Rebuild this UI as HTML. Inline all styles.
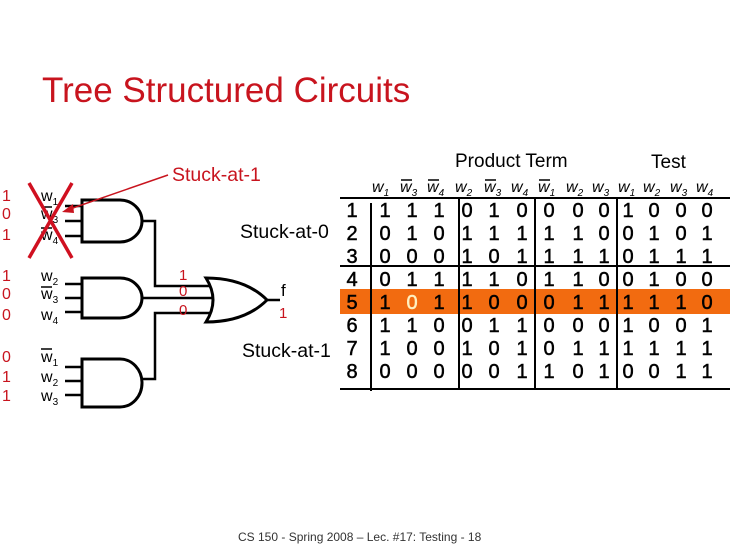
<!DOCTYPE html>
<html><head><meta charset="utf-8"><style>
html,body{margin:0;padding:0;background:#fff;}
svg{display:block;font-family:"Liberation Sans",sans-serif;}
</style></head><body>
<svg width="730" height="547" viewBox="0 0 730 547">
<rect width="730" height="547" fill="#fff"/>
<text x="42" y="102" font-size="35" fill="#c8141e">Tree Structured Circuits</text>

<rect x="340" y="289" width="390" height="25" fill="#f26b10"/>

<g font-size="16" fill="#000">
<text x="41" y="201">w<tspan font-size="10" dy="4">1</tspan></text>
<text x="41" y="219">w<tspan font-size="10" dy="4">3</tspan></text>
<text x="41" y="240">w<tspan font-size="10" dy="4">4</tspan></text>
<text x="41" y="281">w<tspan font-size="10" dy="4">2</tspan></text>
<text x="41" y="299">w<tspan font-size="10" dy="4">3</tspan></text>
<text x="41" y="320">w<tspan font-size="10" dy="4">4</tspan></text>
<text x="41" y="362">w<tspan font-size="10" dy="4">1</tspan></text>
<text x="41" y="382">w<tspan font-size="10" dy="4">2</tspan></text>
<text x="41" y="401">w<tspan font-size="10" dy="4">3</tspan></text>
</g>
<g stroke="#000" stroke-width="1.5">
<line x1="41" y1="207" x2="52" y2="207"/><line x1="41" y1="228" x2="52" y2="228"/>
<line x1="41" y1="287" x2="52" y2="287"/><line x1="41" y1="349" x2="52" y2="349"/>
</g>
<g font-size="16" fill="#c8141e">
<text x="2" y="201">1</text><text x="2" y="219">0</text><text x="2" y="240">1</text>
<text x="2" y="281">1</text><text x="2" y="299">0</text><text x="2" y="320">0</text>
<text x="2" y="362">0</text><text x="2" y="382">1</text><text x="2" y="401">1</text>
</g>

<g stroke="#000" stroke-width="3" fill="none">
<path d="M82 200 H120 A22 21 0 0 1 120 242 H82 Z"/>
<path d="M82 278 H120 A22 20 0 0 1 120 318 H82 Z"/>
<path d="M82 359 H120 A22 24 0 0 1 120 407 H82 Z"/>
<g stroke-width="2.5">
<line x1="65" y1="206" x2="82" y2="206"/><line x1="65" y1="221" x2="82" y2="221"/><line x1="65" y1="236" x2="82" y2="236"/>
<line x1="65" y1="284" x2="82" y2="284"/><line x1="65" y1="298" x2="82" y2="298"/><line x1="65" y1="312" x2="82" y2="312"/>
<line x1="65" y1="367" x2="82" y2="367"/><line x1="65" y1="381" x2="82" y2="381"/><line x1="65" y1="395" x2="82" y2="395"/>
<polyline points="142,221 155,221 155,286 210,286"/>
<line x1="142" y1="298" x2="212" y2="298"/>
<polyline points="142,379 155,379 155,313 210,313"/>
</g>
<path d="M206 278 Q245 278 267 300 Q245 322 206 322 Q220 300 206 278 Z"/>
<line x1="267" y1="300" x2="280" y2="300" stroke-width="2.5"/>
</g>
<text x="281" y="296" font-size="17">f</text>
<g font-size="15" fill="#c8141e">
<text x="179" y="280">1</text><text x="179" y="296">0</text><text x="179" y="315">0</text>
<text x="279" y="318">1</text>
</g>

<g stroke="#d01020" stroke-width="3.5">
<line x1="29" y1="183" x2="72" y2="258"/><line x1="72" y1="183" x2="29" y2="258"/>
</g>
<line x1="168" y1="175" x2="70" y2="209" stroke="#c8141e" stroke-width="1.5"/>
<polygon points="62,212 73,204 74,213" fill="#c8141e"/>
<text x="172" y="181" font-size="19.5" fill="#c8141e">Stuck-at-1</text>
<text x="240" y="238" font-size="19.5">Stuck-at-0</text>
<text x="242" y="357" font-size="19.5">Stuck-at-1</text>

<text x="455" y="167" font-size="19">Product Term</text>
<text x="651" y="168" font-size="19">Test</text>
<g font-size="16" font-style="italic">
<text x="372" y="192">w<tspan font-size="10" dy="4">1</tspan></text>
<text x="400" y="192">w<tspan font-size="10" dy="4">3</tspan></text>
<text x="427" y="192">w<tspan font-size="10" dy="4">4</tspan></text>
<text x="455" y="192">w<tspan font-size="10" dy="4">2</tspan></text>
<text x="484" y="192">w<tspan font-size="10" dy="4">3</tspan></text>
<text x="511" y="192">w<tspan font-size="10" dy="4">4</tspan></text>
<text x="538" y="192">w<tspan font-size="10" dy="4">1</tspan></text>
<text x="566" y="192">w<tspan font-size="10" dy="4">2</tspan></text>
<text x="592" y="192">w<tspan font-size="10" dy="4">3</tspan></text>
<text x="618" y="192">w<tspan font-size="10" dy="4">1</tspan></text>
<text x="643" y="192">w<tspan font-size="10" dy="4">2</tspan></text>
<text x="670" y="192">w<tspan font-size="10" dy="4">3</tspan></text>
<text x="696" y="192">w<tspan font-size="10" dy="4">4</tspan></text>
</g>
<g stroke="#000" stroke-width="1.5">
<line x1="401" y1="180" x2="412" y2="180"/><line x1="428" y1="180" x2="439" y2="180"/>
<line x1="485" y1="180" x2="496" y2="180"/><line x1="539" y1="180" x2="550" y2="180"/>
</g>
<g stroke="#000" stroke-width="2">
<line x1="340" y1="198" x2="730" y2="198"/>
<line x1="340" y1="266" x2="730" y2="266"/>
<line x1="340" y1="389" x2="730" y2="389"/>
<line x1="371" y1="203" x2="371" y2="391"/>
<line x1="459" y1="198" x2="459" y2="389"/>
<line x1="535" y1="198" x2="535" y2="389"/>
<line x1="617" y1="198" x2="617" y2="389"/>
</g>
<g font-size="20" text-anchor="middle" stroke="#000" stroke-width="0.5">
<text x="352" y="217">1</text><text x="352" y="240">2</text><text x="352" y="263">3</text><text x="352" y="286">4</text>
<text x="352" y="309">5</text><text x="352" y="332">6</text><text x="352" y="355">7</text><text x="352" y="378">8</text>
<text y="217"><tspan x="385">1</tspan><tspan x="412">1</tspan><tspan x="439">1</tspan><tspan x="467">0</tspan><tspan x="494">1</tspan><tspan x="522">0</tspan><tspan x="549">0</tspan><tspan x="578">0</tspan><tspan x="604">0</tspan><tspan x="628">1</tspan><tspan x="654">0</tspan><tspan x="681">0</tspan><tspan x="707">0</tspan></text>
<text y="240"><tspan x="385">0</tspan><tspan x="412">1</tspan><tspan x="439">0</tspan><tspan x="467">1</tspan><tspan x="494">1</tspan><tspan x="522">1</tspan><tspan x="549">1</tspan><tspan x="578">1</tspan><tspan x="604">0</tspan><tspan x="628">0</tspan><tspan x="654">1</tspan><tspan x="681">0</tspan><tspan x="707">1</tspan></text>
<text y="263"><tspan x="385">0</tspan><tspan x="412">0</tspan><tspan x="439">0</tspan><tspan x="467">1</tspan><tspan x="494">0</tspan><tspan x="522">1</tspan><tspan x="549">1</tspan><tspan x="578">1</tspan><tspan x="604">1</tspan><tspan x="628">0</tspan><tspan x="654">1</tspan><tspan x="681">1</tspan><tspan x="707">1</tspan></text>
<text y="286"><tspan x="385">0</tspan><tspan x="412">1</tspan><tspan x="439">1</tspan><tspan x="467">1</tspan><tspan x="494">1</tspan><tspan x="522">0</tspan><tspan x="549">1</tspan><tspan x="578">1</tspan><tspan x="604">0</tspan><tspan x="628">0</tspan><tspan x="654">1</tspan><tspan x="681">0</tspan><tspan x="707">0</tspan></text>
<text y="309"><tspan x="385">1</tspan><tspan x="412" fill="#fff0c0" stroke="#fff0c0">0</tspan><tspan x="439">1</tspan><tspan x="467">1</tspan><tspan x="494">0</tspan><tspan x="522">0</tspan><tspan x="549">0</tspan><tspan x="578">1</tspan><tspan x="604">1</tspan><tspan x="628">1</tspan><tspan x="654">1</tspan><tspan x="681">1</tspan><tspan x="707">0</tspan></text>
<text y="332"><tspan x="385">1</tspan><tspan x="412">1</tspan><tspan x="439">0</tspan><tspan x="467">0</tspan><tspan x="494">1</tspan><tspan x="522">1</tspan><tspan x="549">0</tspan><tspan x="578">0</tspan><tspan x="604">0</tspan><tspan x="628">1</tspan><tspan x="654">0</tspan><tspan x="681">0</tspan><tspan x="707">1</tspan></text>
<text y="355"><tspan x="385">1</tspan><tspan x="412">0</tspan><tspan x="439">0</tspan><tspan x="467">1</tspan><tspan x="494">0</tspan><tspan x="522">1</tspan><tspan x="549">0</tspan><tspan x="578">1</tspan><tspan x="604">1</tspan><tspan x="628">1</tspan><tspan x="654">1</tspan><tspan x="681">1</tspan><tspan x="707">1</tspan></text>
<text y="378"><tspan x="385">0</tspan><tspan x="412">0</tspan><tspan x="439">0</tspan><tspan x="467">0</tspan><tspan x="494">0</tspan><tspan x="522">1</tspan><tspan x="549">1</tspan><tspan x="578">0</tspan><tspan x="604">1</tspan><tspan x="628">0</tspan><tspan x="654">0</tspan><tspan x="681">1</tspan><tspan x="707">1</tspan></text>
</g>

<text x="238" y="541" font-size="12" fill="#333">CS 150 - Spring 2008 – Lec. #17: Testing - 18</text>
</svg>
</body></html>
